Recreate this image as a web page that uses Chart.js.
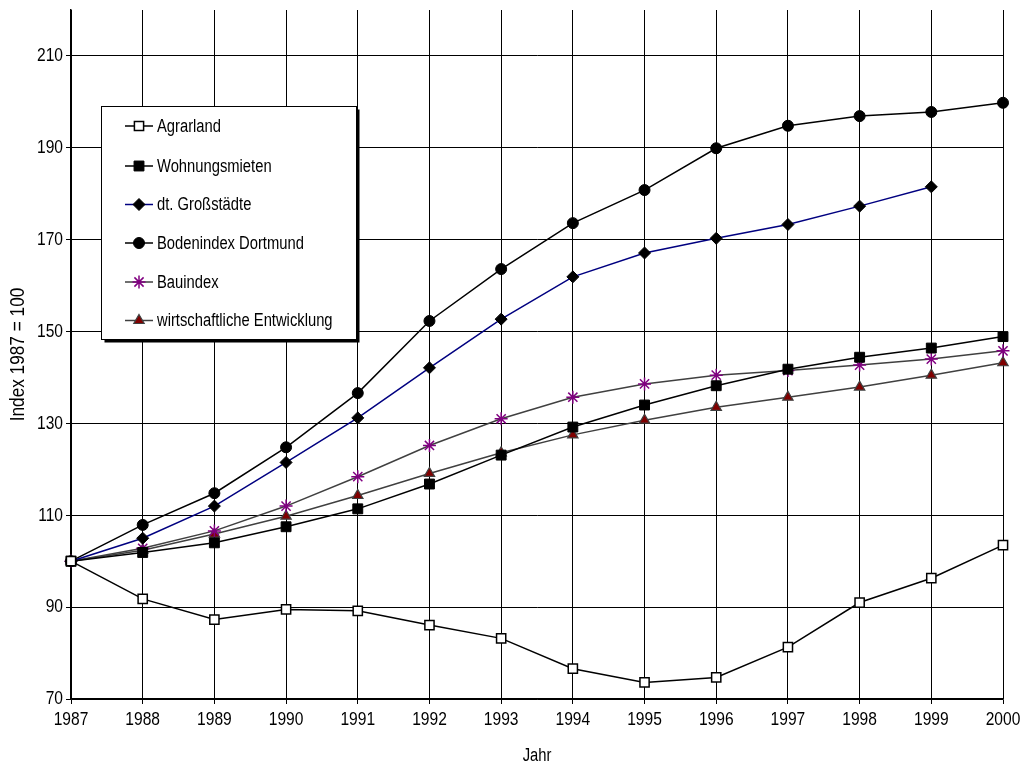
<!DOCTYPE html>
<html>
<head>
<meta charset="utf-8">
<script src="https://cdn.jsdelivr.net/npm/chart.js@4"></script>
<style>
html,body{margin:0;padding:0;background:#fff;}
#wrap{width:1024px;height:767px;}
</style>
</head>
<body>
<div id="wrap"><canvas id="c" width="1024" height="767"></canvas></div>
<script>
const FONT = "'Liberation Sans', Arial, sans-serif";
const years = ['1987','1988','1989','1990','1991','1992','1993','1994','1995','1996','1997','1998','1999','2000'];
const agrarland = [100, 91.8, 87.3, 89.5, 89.2, 86.1, 83.2, 76.6, 73.6, 74.7, 81.3, 91.0, 96.3, 103.5];
const wohnungsmieten = [100, 101.9, 104.0, 107.5, 111.4, 116.8, 123.1, 129.2, 134.0, 138.2, 141.8, 144.4, 146.4, 148.9];
const grossstaedte = [100, 105.0, 112.0, 121.5, 131.2, 142.1, 152.7, 161.9, 167.1, 170.3, 173.3, 177.3, 181.5, null];
const bodenindex = [100, 107.9, 114.8, 124.8, 136.6, 152.3, 163.6, 173.6, 180.8, 189.9, 194.8, 196.9, 197.8, 199.8];
const bauindex = [100, 102.8, 106.6, 112.0, 118.4, 125.2, 131.0, 135.7, 138.6, 140.5, 141.5, 142.7, 144.0, 145.8];
const wirtschaft = [100, 102.4, 105.9, 109.8, 114.3, 119.1, 123.6, 127.5, 130.7, 133.5, 135.7, 137.9, 140.5, 143.2];
const seriesNames = ['Agrarland','Wohnungsmieten','dt. Großstädte','Bodenindex Dortmund','Bauindex','wirtschaftliche Entwicklung'];
const yTickValues = [70, 90, 110, 130, 150, 170, 190, 210];
const yMin = 70, yMax = 220;

// narrow (Arial Narrow-like) text rendering: compress glyphs horizontally around their anchor
const canvas = document.getElementById('c');
const ctx2d = canvas.getContext('2d');
const origFillText = ctx2d.fillText.bind(ctx2d);
ctx2d.fillText = function(t, x, y){
  this.save();
  this.translate(x, y);
  this.scale(0.82, 1);
  origFillText(t, 0, 0);
  this.restore();
};

const datasets = [
  {label: seriesNames[0], data: agrarland, borderColor:'#000', borderWidth:1.5,
   pointStyle:'rect', pointRadius:6.5, pointBackgroundColor:'#fff', pointBorderColor:'#000', pointBorderWidth:1.5},
  {label: seriesNames[1], data: wohnungsmieten, borderColor:'#000', borderWidth:1.5,
   pointStyle:'rect', pointRadius:7, pointBackgroundColor:'#000', pointBorderColor:'#000', pointBorderWidth:1},
  {label: seriesNames[2], data: grossstaedte, borderColor:'#000080', borderWidth:1.5,
   pointStyle:'rectRot', pointRadius:6, pointBackgroundColor:'#000', pointBorderColor:'#000', pointBorderWidth:1},
  {label: seriesNames[3], data: bodenindex, borderColor:'#000', borderWidth:1.5,
   pointStyle:'circle', pointRadius:5.5, pointBackgroundColor:'#000', pointBorderColor:'#000', pointBorderWidth:1},
  {label: seriesNames[4], data: bauindex, borderColor:'#404040', borderWidth:1.5,
   pointStyle:'star', pointRadius:6.5, pointBackgroundColor:'#800080', pointBorderColor:'#800080', pointBorderWidth:1.5},
  {label: seriesNames[5], data: wirtschaft, borderColor:'#404040', borderWidth:1.5,
   pointStyle:'triangle', pointRadius:6, pointBackgroundColor:'#800000', pointBorderColor:'#404040', pointBorderWidth:1.2}
];

const boxLegend = {
  id:'boxLegend',
  afterDraw(chart){
    const ctx = chart.ctx;
    const x0 = 101.5, y0 = 106.5, w = 255, h = 233;
    ctx.save();
    ctx.fillStyle = '#000';
    ctx.fillRect(x0+3, y0+3, w, h);
    ctx.fillStyle = '#fff';
    ctx.fillRect(x0, y0, w, h);
    ctx.strokeStyle = '#000';
    ctx.lineWidth = 1;
    ctx.strokeRect(x0, y0, w, h);
    const rows = [126, 166, 204.5, 243, 282, 320.5];
    chart.data.datasets.forEach((ds, i) => {
      const y = rows[i];
      ctx.strokeStyle = ds.borderColor;
      ctx.lineWidth = 1.5;
      ctx.beginPath(); ctx.moveTo(125, y); ctx.lineTo(153, y); ctx.stroke();
      ctx.fillStyle = ds.pointBackgroundColor;
      ctx.strokeStyle = ds.pointBorderColor;
      ctx.lineWidth = ds.pointBorderWidth;
      Chart.helpers.drawPoint(ctx, {pointStyle: ds.pointStyle, radius: ds.pointRadius, borderWidth: ds.pointBorderWidth, rotation:0}, 139, y);
      ctx.fillStyle = '#000';
      ctx.font = "18px " + FONT;
      ctx.textBaseline = 'middle';
      ctx.textAlign = 'left';
      ctx.fillText(ds.label, 157, y + 1);
    });
    ctx.restore();
  }
};

new Chart(canvas, {
  type:'line',
  data:{labels: years, datasets},
  options:{
    responsive:false,
    animation:false,
    devicePixelRatio:1,
    layout:{padding:{left:6, right:21, top:10, bottom:0}},
    plugins:{legend:{display:false}, tooltip:{enabled:false}},
    elements:{line:{tension:0}},
    scales:{
      x:{
        offset:false,
        grid:{color:'#000', lineWidth:1, tickLength:5, tickColor:'#000'},
        border:{color:'#000', width:1.5},
        ticks:{color:'#000', font:{family:FONT, size:19}, padding:4, maxRotation:0, autoSkip:false},
        title:{display:true, text:'Jahr', color:'#000', font:{family:FONT, size:18}, padding:{top:11, bottom:0}},
        afterFit(s){ s.height = 68; s.paddingLeft = 0; s.paddingRight = 0; }
      },
      y:{
        min:yMin, max:yMax,
        afterBuildTicks(s){ s.ticks = yTickValues.map(v => ({value:v})); },
        grid:{color:'#000', lineWidth:1, tickLength:5, tickColor:'#000'},
        border:{color:'#000', width:1.5},
        ticks:{color:'#000', font:{family:FONT, size:19}, padding:3},
        title:{display:true, text:'Index 1987 = 100', color:'#000', font:{family:FONT, size:21}, padding:{top:0,bottom:3}},
        afterFit(s){ s.width = 65; s.paddingTop = 0; s.paddingBottom = 0; }
      }
    }
  },
  plugins:[boxLegend]
});
</script>
</body>
</html>
